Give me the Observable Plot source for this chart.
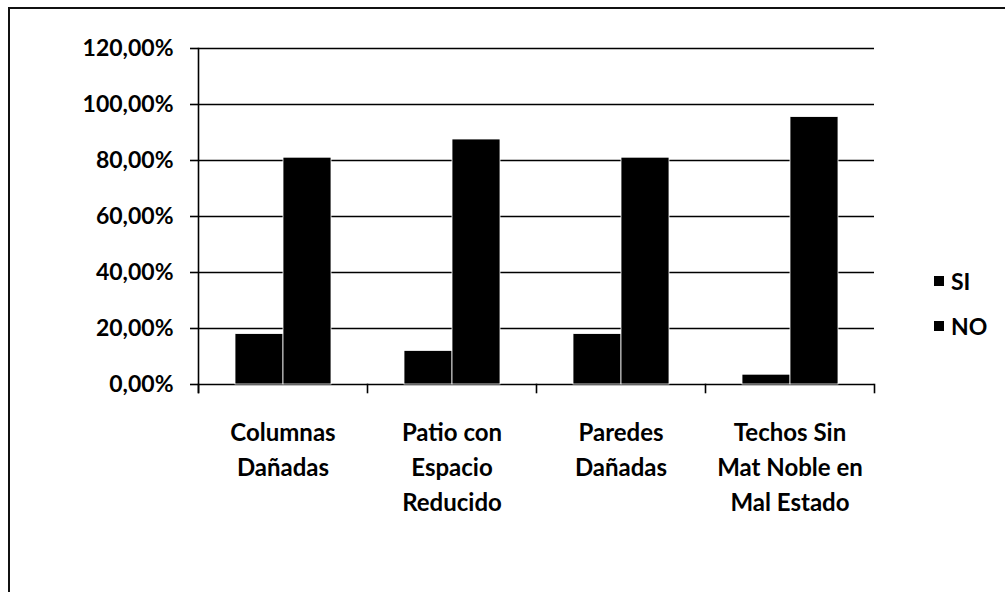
<!DOCTYPE html>
<html>
<head>
<meta charset="utf-8">
<script src="https://cdn.jsdelivr.net/npm/d3@7"></script>
<script src="https://cdn.jsdelivr.net/npm/@observablehq/plot@0.6"></script>
<style>
  html, body { margin: 0; padding: 0; background: #fff; }
  #chart { position: relative; width: 1005px; height: 592px; overflow: hidden;
           font-family: Lato, "Open Sans", sans-serif; color: #000; }
  #border { position: absolute; left: 8px; top: 7px; right: -10px; bottom: -10px;
            border-top: 2px solid #111; border-left: 2px solid #111; }
  #plot { position: absolute; left: 0; top: 0; }
  #legend { position: absolute; left: 934px; top: 268px; font-size: 23px; font-weight: bold; }
  #legend .item { display: flex; align-items: center; height: 26px; margin-bottom: 19px; }
  #legend .sw { width: 10px; height: 10px; margin-right: 7px; }
  .cat-labels text { font-size: 24px; }
</style>
</head>
<body>
<div id="chart">
  <div id="border"></div>
  <div id="plot"></div>
  <div id="legend"></div>
</div>
<script>
// Categories (multi-line labels), series and their percentages
const categories = [
  "Columnas\nDañadas",
  "Patio con\nEspacio\nReducido",
  "Paredes\nDañadas",
  "Techos Sin\nMat Noble en\nMal Estado"
];
const series = ["SI", "NO"];
const seriesColors = ["#000000", "#000000"];
const siValues = [18.0, 12.0, 18.0, 3.5];
const noValues = [81.0, 87.5, 81.0, 95.5];
const yTicks = [0, 20, 40, 60, 80, 100, 120];

const rows = categories.flatMap((cat, i) => [
  {cat, serie: series[0], value: siValues[i]},
  {cat, serie: series[1], value: noValues[i]}
]);

const pct = d => d.toFixed(2).replace(".", ",") + "%";

const chart = Plot.plot({
  width: 1005,
  height: 592,
  marginLeft: 197,
  marginRight: 130,
  marginTop: 48,
  marginBottom: 208,
  style: {fontFamily: "Lato, 'Open Sans', sans-serif", fontSize: "23px", fontWeight: "bold",
          color: "#000", background: "transparent", overflow: "visible"},
  fx: {domain: categories, padding: 0, axis: null, label: null},
  x: {domain: series, paddingInner: 0, paddingOuter: 0.73, axis: null},
  y: {domain: [0, 120], axis: null},
  color: {domain: series, range: seriesColors},
  marks: [
    // horizontal gridlines
    Plot.ruleY(yTicks, {stroke: "#000", strokeWidth: 1.6}),
    // grouped bars
    Plot.barY(rows, {fx: "cat", x: "serie", y: "value", fill: "serie", stroke: "#fff", strokeWidth: 0.8}),
    // value axis with outside ticks
    Plot.axisY({ticks: yTicks, tickSize: 8, tickPadding: 17, tickFormat: pct,
                stroke: "#000", strokeWidth: 1.6, label: null}),
    // vertical value-axis line, slightly below the baseline
    Plot.frame({anchor: "left", facetAnchor: "left", insetBottom: -8, stroke: "#000", strokeWidth: 1.6}),
    // category boundary ticks below the baseline
    Plot.frame({anchor: "left", insetTop: 336, insetBottom: -8, stroke: "#000", strokeWidth: 1.6}),
    Plot.frame({anchor: "right", facetAnchor: "right", insetTop: 336, insetBottom: -8, stroke: "#000", strokeWidth: 1.6}),
    // category labels under the baseline
    Plot.axisFx({anchor: "bottom", tickSize: 0, tickPadding: 32, lineHeight: 1.45, label: null,
                 className: "cat-labels"})
  ]
});
document.getElementById("plot").append(chart);

// legend
const legend = document.getElementById("legend");
series.forEach((s, i) => {
  const item = document.createElement("div");
  item.className = "item";
  const sw = document.createElement("span");
  sw.className = "sw";
  sw.style.background = seriesColors[i];
  const label = document.createElement("span");
  label.textContent = s;
  item.append(sw, label);
  legend.append(item);
});
</script>
</body>
</html>
